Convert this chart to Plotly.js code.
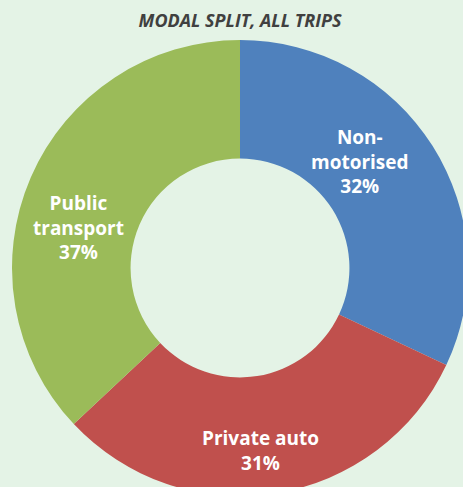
<!DOCTYPE html>
<html>
<head>
<meta charset="utf-8">
<script src="https://cdn.plot.ly/plotly-3.0.1.min.js"></script>
<style>
html, body { margin: 0; padding: 0; background: #e4f3e6; overflow: hidden; width: 463px; height: 487px; }
#chart { width: 468px; height: 496px; }
</style>
</head>
<body>
<div id="chart"></div>
<script>
var categories = ["Non-<br>motorised", "Private auto", "Public<br>transport"];
var shares = [32, 31, 37];
var colors = ["#4f81bd", "#c0504d", "#9bbb59"];
var chartTitle = "MODAL SPLIT, ALL TRIPS";

// layout geometry (pixels inside the 468x496 figure)
var W = 468, H = 496, ML = 12, MT = 40;
var plotW = W - ML, plotH = H - MT;
// label centres in pixels
var labelPx = [[360, 161], [260, 450], [78, 227]];

var total = shares.reduce(function (a, b) { return a + b; }, 0);
var annotations = categories.map(function (c, i) {
  var pct = Math.round(shares[i] / total * 100) + "%";
  return {
    text: "<b>" + c + "<br>" + pct + "</b>",
    xref: "paper", yref: "paper",
    x: (labelPx[i][0] - ML) / plotW,
    y: 1 - (labelPx[i][1] - MT) / plotH,
    xanchor: "center", yanchor: "middle",
    showarrow: false,
    align: "center",
    font: { family: "Open Sans, sans-serif", size: 19, color: "#ffffff" }
  };
});

var trace = {
  type: "pie",
  labels: categories,
  values: shares,
  hole: 0.48,
  sort: false,
  direction: "clockwise",
  rotation: 0,
  marker: { colors: colors, line: { width: 0 } },
  textinfo: "none",
  hoverinfo: "none",
  showlegend: false
};

var layout = {
  width: W,
  height: H,
  margin: { l: ML, r: 0, t: MT, b: 0 },
  paper_bgcolor: "#e4f3e6",
  plot_bgcolor: "#e4f3e6",
  title: {
    text: "<b><i>" + chartTitle + "</i></b>",
    font: { family: "Open Sans, sans-serif", size: 18, color: "#404040" },
    x: 240 / W, xanchor: "center",
    y: 1 - 21 / H, yanchor: "middle", yref: "container"
  },
  annotations: annotations,
  showlegend: false
};

Plotly.newPlot("chart", [trace], layout, { displayModeBar: false, staticPlot: true });
</script>
</body>
</html>
